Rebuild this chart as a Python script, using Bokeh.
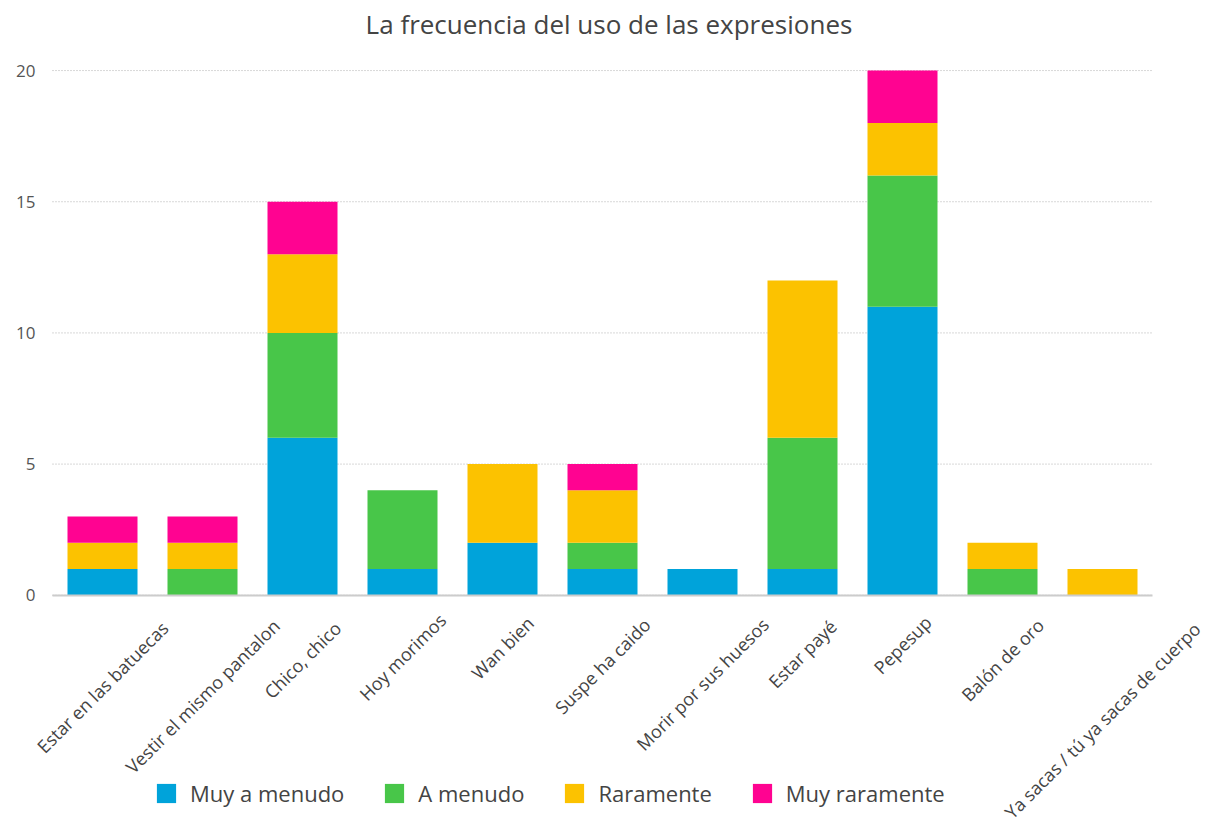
import math
from bokeh.plotting import figure
from bokeh.core.properties import value
from bokeh.models import (ColumnDataSource, Range1d, Legend, LegendItem, LabelSet,
                          FixedTicker)
from bokeh.embed import file_html
from bokeh.resources import INLINE

categories = ["Estar en las batuecas", "Vestir el mismo pantalon", "Chico, chico",
              "Hoy morimos", "Wan bien", "Suspe ha caido", "Morir por sus huesos",
              "Estar payé", "Pepesup", "Balón de oro", "Ya sacas / tú ya sacas de cuerpo"]
series = ["Muy a menudo", "A menudo", "Raramente", "Muy raramente"]
muy_a_menudo = [1, 0, 6, 1, 2, 1, 1, 1, 11, 0, 0]
a_menudo = [0, 1, 4, 3, 0, 1, 0, 5, 5, 1, 0]
raramente = [1, 1, 3, 0, 3, 2, 0, 6, 2, 1, 1]
muy_raramente = [1, 1, 2, 0, 0, 1, 0, 0, 2, 0, 0]
y_ticks = [0, 5, 10, 15, 20]
colors = ["#00A3DA", "#48C649", "#FCC200", "#FF0391"]

FONT = "Open Sans"
LABEL_PX = 18

n = len(categories)
centers = [i + 0.5 for i in range(n)]          # one slot per category on the x scale

# Rotated category labels are centred under their bar; their vertical
# offset depends on the (estimated) rendered length of each label.
def label_offset(s):
    length = len(s) * 0.475 * LABEL_PX
    return -(22 + (length + LABEL_PX) / (2 * math.sqrt(2)))

source = ColumnDataSource(data={
    "x": centers,
    "cat": categories,
    "zero": [0] * n,
    "yoff": [label_offset(s) for s in categories],
    series[0]: muy_a_menudo,
    series[1]: a_menudo,
    series[2]: raramente,
    series[3]: muy_raramente,
})
grid_src = ColumnDataSource(data={"y": y_ticks})

# The plotting frame is extended around the category area, so that the
# rotated labels and the legend (drawn inside the frame) share the space
# below the bars as they do in the reference.
p = figure(x_range=Range1d(-0.52, n + 0.65), y_range=Range1d(-8.7, 21.07),
           frame_width=1217, frame_height=781,
           min_border_left=0, min_border_right=3, min_border_top=42, min_border_bottom=0,
           output_backend="svg", toolbar_location=None,
           title="La frecuencia del uso de las expresiones")

# horizontal dotted grid lines over the category span only
p.segment(x0=0, x1=n, y0="y", y1="y", source=grid_src,
          line_color="#b0b0b0", line_dash="1 2", line_width=1)

renderers = p.vbar_stack(series, x="x", width=0.7, color=colors, source=source,
                         line_color=None)

p.title.align = "center"
p.title.text_font = FONT
p.title.text_font_style = "normal"
p.title.text_font_size = "26px"
p.title.text_color = "#444444"
p.title.standoff = 2

p.outline_line_color = None
p.xgrid.grid_line_color = None
p.ygrid.grid_line_color = None

p.yaxis.fixed_location = 0
p.yaxis.ticker = FixedTicker(ticks=y_ticks)
p.yaxis.axis_line_color = None
p.yaxis.major_tick_line_color = None
p.yaxis.minor_tick_line_color = None
p.yaxis.major_tick_out = 0
p.yaxis.major_label_standoff = 17
p.yaxis.major_label_text_font = FONT
p.yaxis.major_label_text_font_size = "17px"
p.yaxis.major_label_text_color = "#555555"

# x axis: only the baseline; category names are drawn by the LabelSet below
p.xaxis.fixed_location = 0
p.xaxis.bounds = (0, n)
p.xaxis.ticker = FixedTicker(ticks=[])
p.xaxis.axis_line_color = "#cccccc"
p.xaxis.axis_line_width = 2
p.xaxis.major_tick_line_color = None
p.xaxis.minor_tick_line_color = None

labels = LabelSet(x="x", y="zero", text="cat", source=source,
                  angle=math.pi / 4, text_align="center", text_baseline="middle",
                  y_offset="yoff",
                  text_font=value(FONT), text_font_size=value(f"{LABEL_PX}px"),
                  text_color="#444444")
p.add_layout(labels)

legend = Legend(items=[LegendItem(label=s, renderers=[r]) for s, r in zip(series, renderers)],
                orientation="horizontal", location=(154, 15),
                border_line_color=None, background_fill_alpha=0,
                glyph_width=24, glyph_height=24, label_standoff=12, spacing=38,
                padding=0, margin=0,
                label_text_font=FONT, label_text_font_size="22px", label_text_color="#444444")
p.add_layout(legend)

open("out.html", "w").write(file_html(p, INLINE))
